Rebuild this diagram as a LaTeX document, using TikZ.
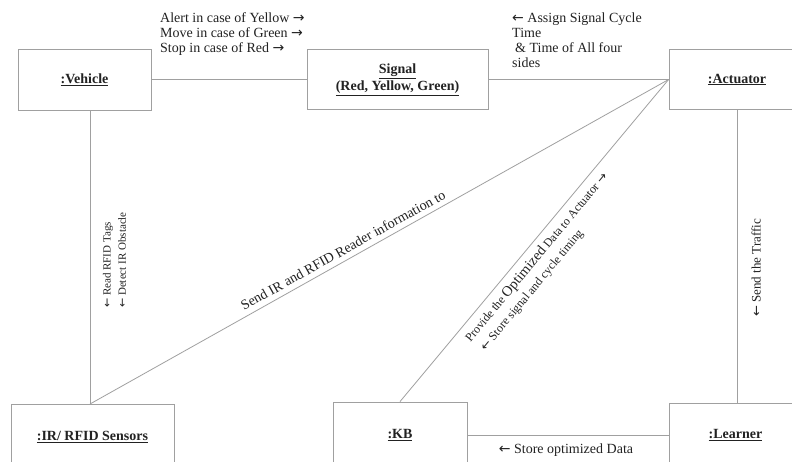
\documentclass[tikz,border=0pt]{standalone}
\usepackage{fontspec}
\setmainfont{Liberation Serif}
\newfontfamily\arrowfont{DejaVu Sans}
\newcommand{\myra}{{\arrowfont →}}
\newcommand{\myla}{{\arrowfont ←}}
\definecolor{linegray}{HTML}{A0A0A0}
\definecolor{txt}{HTML}{222222}
\begin{document}
\begin{tikzpicture}[x=1pt,y=-1pt,
  objbox/.style={draw=linegray, line width=0.8pt, rectangle, inner sep=0pt, align=center,
    text=txt, font=\fontsize{14}{17}\selectfont\bfseries},
  conn/.style={draw=linegray, line width=0.8pt},
  lbl/.style={text=txt, inner sep=0pt, font=\fontsize{14}{15}\selectfont},
  smalllbl/.style={text=txt, inner sep=0pt, font=\fontsize{11}{13}\selectfont},
  diaglbl/.style={text=txt, inner sep=0pt, font=\fontsize{12}{17}\selectfont}]
\useasboundingbox[fill=white] (0,0) rectangle (792,461);

% objects
\node[objbox, minimum width=133, minimum height=61] (veh) at (84.5,79.5) {\underline{:Vehicle}};
\node[objbox, minimum width=181, minimum height=60] (sig) at (397.5,79.5) {\underline{Signal}\\\underline{(Red, Yellow, Green)}};
\node[objbox, minimum width=136, minimum height=60] (act) at (737,79.5) {\underline{:Actuator}};
\node[objbox, minimum width=163, minimum height=66] (ir) at (92.5,437) {\underline{:IR/ RFID Sensors}};
\node[objbox, minimum width=134, minimum height=66] (kb) at (400,435) {\underline{:KB}};
\node[objbox, minimum width=133, minimum height=64] (lrn) at (735.5,435) {\underline{:Learner}};
\coordinate (irtop) at (90,404);

% connectors
\draw[conn] (veh.east) -- (sig.west);
\draw[conn] (sig.east) -- (act.west);
\draw[conn] (irtop |- veh.south) -- (irtop);
\draw[conn] (act.west) -- (irtop);
\draw[conn] (act.west) -- (kb.north);
\draw[conn] (act.south) -- (act.south |- lrn.north);
\draw[conn] (kb.east) -- (lrn.west);

% labels
\node[lbl, anchor=north west, align=left] (l1) at (160,12.5)
  {Alert in case of Yellow \myra\\Move in case of Green \myra\\Stop in case of Red \myra};
\node[lbl, anchor=north west, align=left] (l2) at (512,12.5)
  {\myla\ Assign Signal Cycle\\Time\\\hspace{3pt}\& Time of All four\\sides};
\node[smalllbl, rotate=90, anchor=west] (l3) at (108,308) {\myla\ Read RFID Tags};
\node[smalllbl, rotate=90, anchor=west] (l4) at (122,308) {\myla\ Detect IR Obstacle};
\node[lbl, rotate=29.2] (l5) at (343,250) {Send IR and RFID Reader information to};
\node[diaglbl, rotate=50.3, align=left] (l6) at (543,263)
  {Provide the {\fontsize{14.5}{17}\selectfont Optimized} Data to Actuator \myra\\\hspace{3pt}\myla\ Store signal and cycle timing};
\node[lbl, font=\fontsize{13}{15}\selectfont, rotate=90, anchor=west] (l8) at (756,317) {\myla\ Send the Traffic};
\node[lbl] (l9) at (566,450) {\myla\ Store optimized Data};
\end{tikzpicture}
\end{document}
